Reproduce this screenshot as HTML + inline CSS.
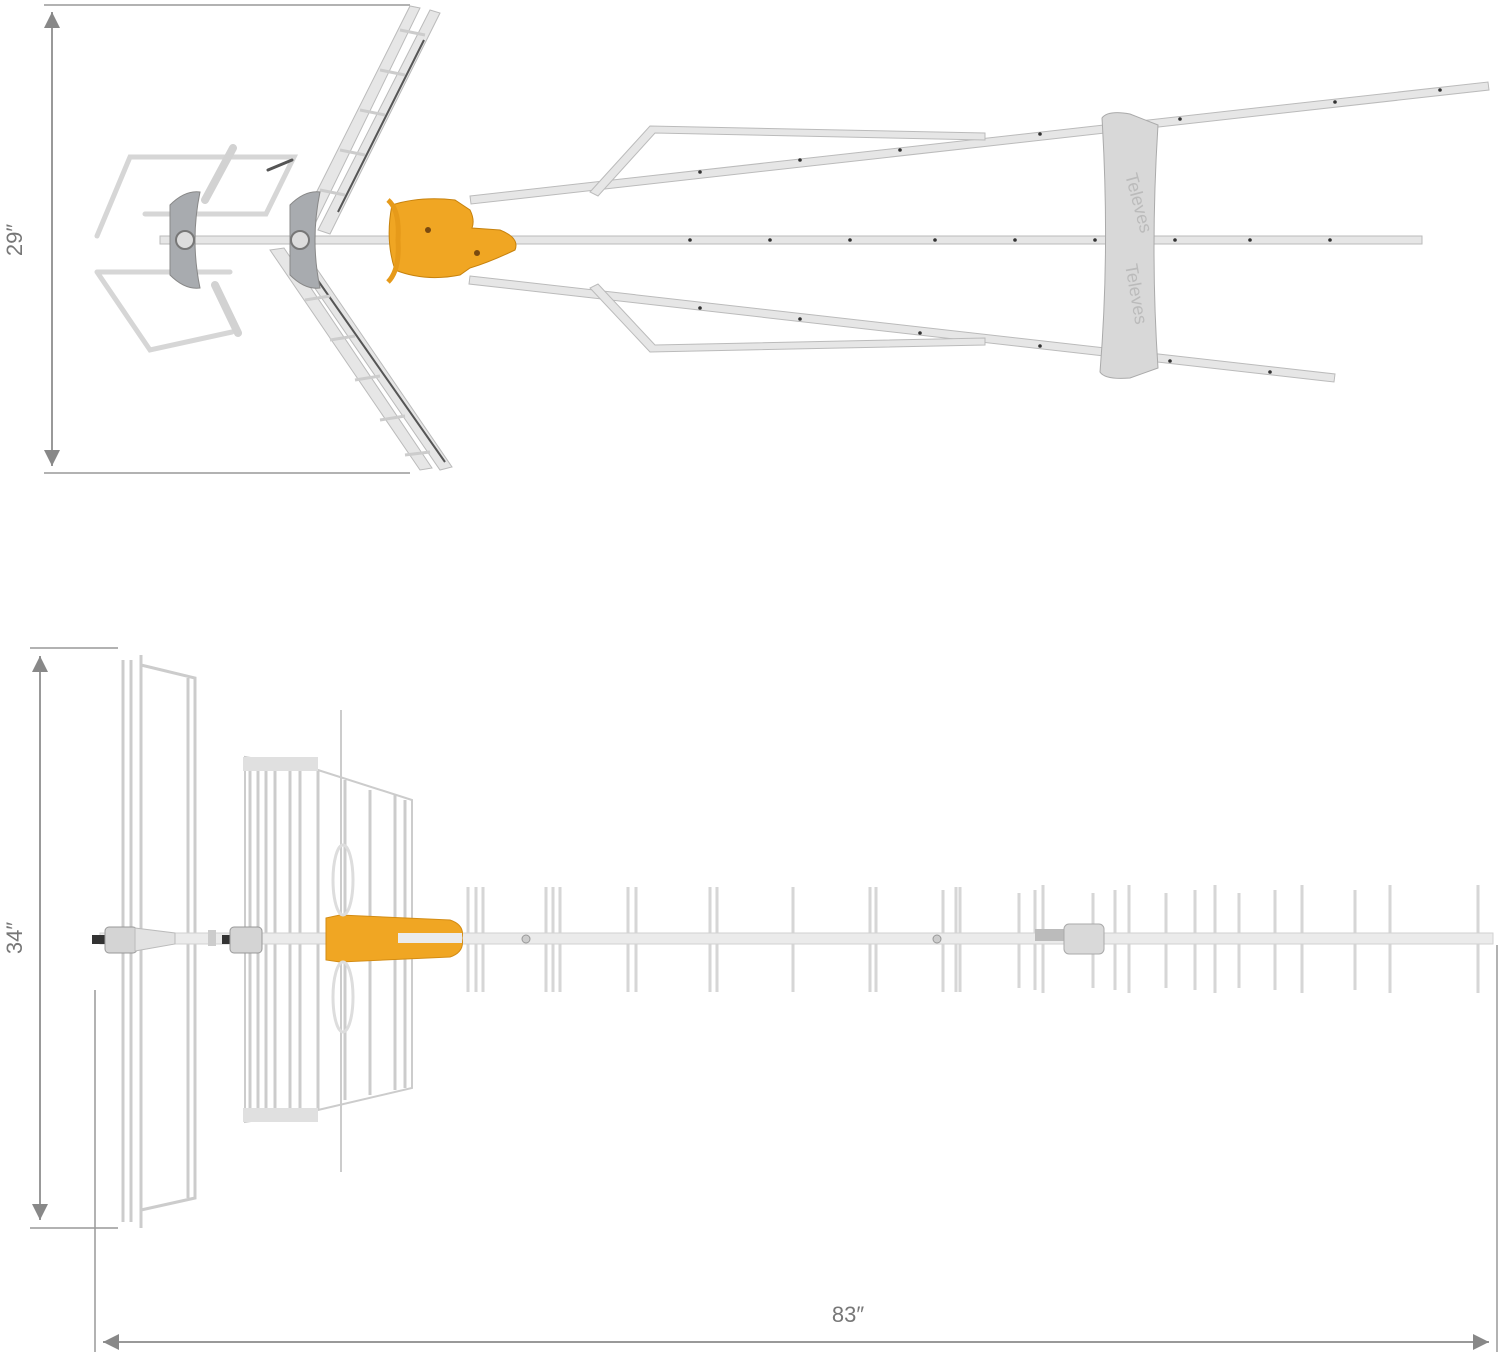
<!DOCTYPE html>
<html><head><meta charset="utf-8"><style>
html,body{margin:0;padding:0;background:#fff;}
svg{display:block}
text{font-family:"Liberation Sans",sans-serif;fill:#777;font-size:22px}
</style></head><body>
<svg width="1500" height="1358" viewBox="0 0 1500 1358" xmlns="http://www.w3.org/2000/svg">
<defs>
<marker id="ar" viewBox="0 0 10 10" refX="10" refY="5" markerWidth="8" markerHeight="8" orient="auto-start-reverse"><path d="M0,0L10,5L0,10z" fill="#888"/></marker>
</defs>
<g stroke="#999" stroke-width="1.5" fill="none">
<line x1="44" y1="5" x2="410" y2="5"/>
<line x1="44" y1="473" x2="410" y2="473"/>
<line x1="52" y1="12" x2="52" y2="466" marker-start="url(#ar)" marker-end="url(#ar)" stroke-width="2"/>
</g>
<text transform="translate(22,240) rotate(-90)" text-anchor="middle">29″</text>

<!-- TOP VIEW -->
<!-- left reflector frames (strokes) -->
<g fill="none" stroke-linecap="round">
<path d="M97,236 L130,157 L294,157 L266,214 L145,214" stroke="#d6d6d6" stroke-width="5"/>
<path d="M97,272 L150,350 L232,332 M97,272 L230,272" stroke="#d6d6d6" stroke-width="5"/>
<line x1="268" y1="170" x2="292" y2="160" stroke="#555" stroke-width="3"/>
<path d="M233,148 L205,200 M215,285 L238,333" stroke="#d2d2d2" stroke-width="8"/>
</g>
<g stroke="#bbb" stroke-width="1" fill="#e6e6e6">
<polygon points="470,196 1488,82 1489,90 471,204"/>
<polygon points="470,276 1335,374 1334,382 469,284"/>
<rect x="160" y="236" width="1262" height="8"/>
<path d="M590,192 L650,126 L985,133 L985,140 L655,133 L598,196Z"/>
<path d="M590,288 L650,352 L985,345 L985,338 L655,345 L598,284Z"/>
<!-- X ladder -->
<polygon points="300,225 410,6 420,8 312,230"/>
<polygon points="318,230 430,10 440,13 330,234"/>
<polygon points="270,250 420,470 432,468 284,248"/>
<polygon points="290,252 440,470 452,467 304,250"/>
</g>
<g stroke="#555" stroke-width="2">
<line x1="424" y1="40" x2="338" y2="212"/>
<line x1="305" y1="262" x2="445" y2="462"/>
</g>
<g stroke="#ccc" stroke-width="3">
<line x1="320" y1="190" x2="345" y2="195"/><line x1="340" y1="150" x2="365" y2="155"/><line x1="360" y1="110" x2="385" y2="115"/><line x1="380" y1="70" x2="405" y2="75"/><line x1="400" y1="30" x2="425" y2="35"/>
<line x1="305" y1="300" x2="330" y2="296"/><line x1="330" y1="340" x2="355" y2="336"/><line x1="355" y1="380" x2="380" y2="376"/><line x1="380" y1="420" x2="405" y2="416"/><line x1="405" y1="455" x2="430" y2="452"/>
</g>
<path d="M170,205 Q185,190 200,192 Q190,240 200,288 Q185,290 170,275Z" fill="#a8abaf" stroke="#888"/>
<circle cx="185" cy="240" r="9" fill="#ddd" stroke="#777" stroke-width="2"/>
<path d="M290,205 Q305,190 320,192 Q310,240 320,288 Q305,290 290,275Z" fill="#a8abaf" stroke="#888"/>
<circle cx="300" cy="240" r="9" fill="#ddd" stroke="#777" stroke-width="2"/>
<path d="M392,205 Q420,196 455,200 L470,210 Q475,220 472,228 L500,230 Q520,238 515,250 Q490,262 470,268 L460,275 Q425,282 395,270 Q385,240 392,205Z" fill="#f0a623" stroke="#c7820d"/>
<path d="M388,200 Q400,210 398,240 Q400,270 388,282" fill="none" stroke="#e69a1a" stroke-width="5"/>
<circle cx="428" cy="230" r="3" fill="#7a4a10"/><circle cx="477" cy="253" r="3" fill="#7a4a10"/>
<path d="M1102,118 Q1108,110 1130,114 L1158,125 Q1150,250 1158,368 L1130,378 Q1105,380 1100,372 Q1110,250 1102,118Z" fill="#d8d8d8" stroke="#aaa"/>
<text transform="translate(1125,175) rotate(75)" style="font-size:18px;fill:#bbb">Televes</text>
<text transform="translate(1125,265) rotate(80)" style="font-size:18px;fill:#bbb">Televes</text>
<g fill="#333">
<circle cx="690" cy="240" r="1.8"/><circle cx="770" cy="240" r="1.8"/><circle cx="850" cy="240" r="1.8"/><circle cx="935" cy="240" r="1.8"/><circle cx="1015" cy="240" r="1.8"/><circle cx="1095" cy="240" r="1.8"/><circle cx="1175" cy="240" r="1.8"/><circle cx="1250" cy="240" r="1.8"/><circle cx="1330" cy="240" r="1.8"/>
<circle cx="700" cy="172" r="1.8"/><circle cx="800" cy="160" r="1.8"/><circle cx="900" cy="150" r="1.8"/><circle cx="1040" cy="134" r="1.8"/><circle cx="1180" cy="119" r="1.8"/><circle cx="1335" cy="102" r="1.8"/><circle cx="1440" cy="90" r="1.8"/>
<circle cx="700" cy="308" r="1.8"/><circle cx="800" cy="319" r="1.8"/><circle cx="920" cy="333" r="1.8"/><circle cx="1040" cy="346" r="1.8"/><circle cx="1170" cy="361" r="1.8"/><circle cx="1270" cy="372" r="1.8"/>
</g>

<!-- BOTTOM VIEW -->
<g stroke="#999" stroke-width="1.5" fill="none">
<line x1="30" y1="648" x2="118" y2="648"/>
<line x1="30" y1="1228" x2="118" y2="1228"/>
<line x1="40" y1="656" x2="40" y2="1220" marker-start="url(#ar)" marker-end="url(#ar)" stroke-width="2"/>
<line x1="95" y1="990" x2="95" y2="1352"/>
<line x1="1497" y1="945" x2="1497" y2="1352"/>
<line x1="103" y1="1342" x2="1489" y2="1342" marker-start="url(#ar)" marker-end="url(#ar)" stroke-width="2"/>
</g>
<text transform="translate(22,938) rotate(-90)" text-anchor="middle">34″</text>
<text x="848" y="1322" text-anchor="middle">83″</text>

<g stroke="#ccc" stroke-width="3" fill="none">
<line x1="123" y1="660" x2="123" y2="1222"/><line x1="131" y1="660" x2="131" y2="1222"/><line x1="141" y1="655" x2="141" y2="1228"/>
<path d="M141,665 L195,678 L195,1198 L141,1210"/>
<line x1="188" y1="678" x2="188" y2="1198"/>
<path d="M245,757 L318,770 L412,800 L412,1088 L318,1110 L245,1122Z" stroke-width="2"/>
<line x1="250" y1="760" x2="250" y2="1120"/><line x1="258" y1="762" x2="258" y2="1118"/><line x1="266" y1="764" x2="266" y2="1116"/><line x1="275" y1="766" x2="275" y2="1114"/><line x1="290" y1="768" x2="290" y2="1112"/><line x1="300" y1="770" x2="300" y2="1110"/><line x1="318" y1="770" x2="318" y2="1110"/><line x1="345" y1="780" x2="345" y2="1100"/><line x1="370" y1="790" x2="370" y2="1095"/><line x1="395" y1="795" x2="395" y2="1090"/><line x1="405" y1="800" x2="405" y2="1088"/>
<line x1="341" y1="710" x2="341" y2="1172" stroke-width="2"/>
</g>
<rect x="243" y="757" width="75" height="14" fill="#e0e0e0"/>
<rect x="243" y="1108" width="75" height="14" fill="#e0e0e0"/>
<g stroke="#d6d6d6" stroke-width="3">
<line x1="468" y1="887" x2="468" y2="992"/><line x1="476" y1="887" x2="476" y2="992"/><line x1="483" y1="887" x2="483" y2="992"/>
<line x1="546" y1="887" x2="546" y2="992"/><line x1="553" y1="887" x2="553" y2="992"/><line x1="560" y1="887" x2="560" y2="992"/>
<line x1="628" y1="887" x2="628" y2="992"/><line x1="636" y1="887" x2="636" y2="992"/>
<line x1="710" y1="887" x2="710" y2="992"/><line x1="717" y1="887" x2="717" y2="992"/>
<line x1="793" y1="887" x2="793" y2="992"/>
<line x1="870" y1="887" x2="870" y2="992"/><line x1="876" y1="887" x2="876" y2="992"/>
<line x1="943" y1="890" x2="943" y2="992"/><line x1="956" y1="887" x2="956" y2="992"/><line x1="960" y1="887" x2="960" y2="992"/>
<line x1="1019" y1="893" x2="1019" y2="988"/><line x1="1035" y1="890" x2="1035" y2="990"/><line x1="1043" y1="885" x2="1043" y2="993"/>
<line x1="1093" y1="893" x2="1093" y2="988"/><line x1="1115" y1="890" x2="1115" y2="990"/><line x1="1129" y1="885" x2="1129" y2="993"/>
<line x1="1166" y1="893" x2="1166" y2="988"/><line x1="1195" y1="890" x2="1195" y2="990"/><line x1="1215" y1="885" x2="1215" y2="993"/>
<line x1="1239" y1="893" x2="1239" y2="988"/><line x1="1275" y1="890" x2="1275" y2="990"/><line x1="1302" y1="885" x2="1302" y2="993"/>
<line x1="1355" y1="890" x2="1355" y2="990"/><line x1="1390" y1="885" x2="1390" y2="993"/><line x1="1478" y1="885" x2="1478" y2="993"/>
</g>
<rect x="100" y="933" width="1393" height="11" fill="#ebebeb" stroke="#d2d2d2"/>
<rect x="92" y="935" width="20" height="9" fill="#333"/>
<rect x="105" y="927" width="32" height="26" rx="4" fill="#d4d4d4" stroke="#999"/>
<path d="M135,928 L175,933 L175,944 L135,951Z" fill="#e2e2e2" stroke="#bbb"/>
<rect x="222" y="935" width="20" height="9" fill="#333"/>
<rect x="230" y="927" width="32" height="26" rx="4" fill="#d4d4d4" stroke="#999"/>
<rect x="208" y="930" width="8" height="16" fill="#ccc"/>
<path d="M326,918 L340,915 L450,920 Q465,925 462,938 Q465,952 450,957 L340,962 L326,960Z" fill="#f0a623" stroke="#d38c14"/>
<rect x="398" y="933" width="64" height="10" fill="#ebebeb"/>
<ellipse cx="343" cy="880" rx="10" ry="35" fill="none" stroke="#ddd" stroke-width="3"/>
<ellipse cx="343" cy="997" rx="10" ry="35" fill="none" stroke="#ddd" stroke-width="3"/>
<circle cx="526" cy="939" r="4" fill="#ccc" stroke="#999"/>
<circle cx="937" cy="939" r="4" fill="#ccc" stroke="#999"/>
<rect x="1035" y="929" width="30" height="12" fill="#bbb"/>
<rect x="1064" y="924" width="40" height="30" rx="5" fill="#d9d9d9" stroke="#aaa"/>
</svg>
</body></html>
